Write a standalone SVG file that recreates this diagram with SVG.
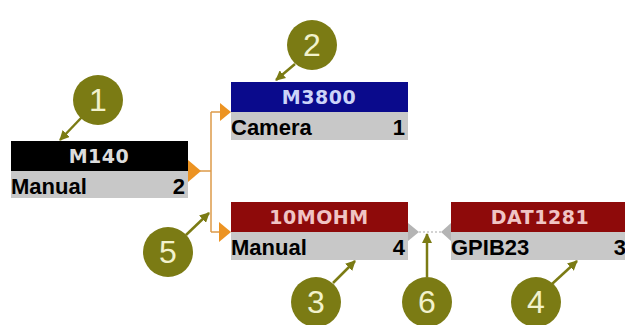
<svg xmlns="http://www.w3.org/2000/svg" width="625" height="325" viewBox="0 0 625 325">
<defs>
<style>
.hdr{font-family:"DejaVu Sans",Verdana,sans-serif;font-weight:bold;font-size:19px;letter-spacing:0.5px;text-anchor:middle}
.row{fill:#c8c8c8}
.rt{font-family:"Liberation Sans",Arial,sans-serif;font-weight:bold;font-size:22px;fill:#000}
.num{fill:#7b7b14}
.nt{font-family:"Liberation Sans",Arial,sans-serif;font-size:32px;fill:#f2f2cc;text-anchor:middle}
.call{stroke:#7b7b14;stroke-width:2.5;fill:none;marker-end:url(#ah)}
.or{stroke:#dc9a48;stroke-width:1.5;fill:none}
.ort{fill:#ec9322}
.gy{stroke:#a8a8a8;stroke-width:1.2;stroke-dasharray:2 2;fill:none}
.gyt{fill:#b4b4b4}
</style>
<marker id="ah" viewBox="0 0 10 10" refX="9" refY="5" markerWidth="4" markerHeight="4" orient="auto" markerUnits="strokeWidth">
<path d="M0,0 L10,5 L0,10 z" fill="#7b7b14"/>
</marker>
</defs>
<rect width="625" height="325" fill="#fff"/>

<g id="connectors">
<polygon class="ort" points="188,160 201,171 188,182"/>
<polyline class="or" points="200,171 211,171"/>
<line class="or" x1="211" y1="112" x2="211" y2="232"/>
<polyline class="or" points="211,112 221,112"/>
<polygon class="ort" points="220,103 231,112 220,121"/>
<polyline class="or" points="211,232 220,232"/>
<polygon class="ort" points="219,222 231,232 219,242"/>
<polygon class="gyt" points="408,223 419,232 408,241"/>
<line class="gy" x1="419" y1="232" x2="442" y2="232"/>
<polygon class="gyt" points="451,223 441,232 451,241"/>
<line class="call" x1="82" y1="117" x2="60" y2="140"/>
<line class="call" x1="295" y1="64" x2="276" y2="80"/>
<line class="call" x1="186" y1="235" x2="209" y2="213"/>
<line class="call" x1="333" y1="283" x2="355" y2="261"/>
<line class="call" x1="427" y1="277" x2="427" y2="234"/>
<line class="call" x1="552" y1="284" x2="577" y2="261"/>
</g>

<g id="M140">
<rect x="11" y="141" width="177" height="30" fill="#000"/>
<text class="hdr" x="99" y="163" fill="#dcdcdc">M140</text>
<rect class="row" x="11" y="171" width="177" height="27"/>
<text class="rt" x="11" y="194">Manual</text>
<text class="rt" x="185" y="194" text-anchor="end">2</text>
</g>

<g id="M3800">
<rect x="231" y="82" width="177" height="30" fill="#0a0a8c"/>
<text class="hdr" x="319" y="104" fill="#ccd4f8">M3800</text>
<rect class="row" x="231" y="112" width="177" height="28"/>
<text class="rt" x="231" y="135">Camera</text>
<text class="rt" x="405" y="135" text-anchor="end">1</text>
</g>

<g id="10MOHM">
<rect x="231" y="202" width="177" height="30" fill="#8e0a0a"/>
<text class="hdr" x="319" y="224" fill="#f0c4c4">10MOHM</text>
<rect class="row" x="231" y="232" width="177" height="28"/>
<text class="rt" x="231" y="255">Manual</text>
<text class="rt" x="405" y="255" text-anchor="end">4</text>
</g>

<g id="DAT1281">
<rect x="451" y="202" width="178" height="30" fill="#8e0a0a"/>
<text class="hdr" x="540" y="224" fill="#f0c4c4">DAT1281</text>
<rect class="row" x="451" y="232" width="178" height="28"/>
<text class="rt" x="451" y="255">GPIB23</text>
<text class="rt" x="626" y="255" text-anchor="end">3</text>
</g>

<g id="c1"><circle class="num" cx="98" cy="100" r="25"/><text class="nt" x="98" y="111">1</text></g>
<g id="c2"><circle class="num" cx="312" cy="45" r="25"/><text class="nt" x="312" y="56">2</text></g>
<g id="c5"><circle class="num" cx="168" cy="252" r="25"/><text class="nt" x="168" y="263">5</text></g>
<g id="c3"><circle class="num" cx="316" cy="302" r="25"/><text class="nt" x="316" y="313">3</text></g>
<g id="c6"><circle class="num" cx="427" cy="302" r="25"/><text class="nt" x="427" y="313">6</text></g>
<g id="c4"><circle class="num" cx="536" cy="302" r="25"/><text class="nt" x="536" y="313">4</text></g>
</svg>
